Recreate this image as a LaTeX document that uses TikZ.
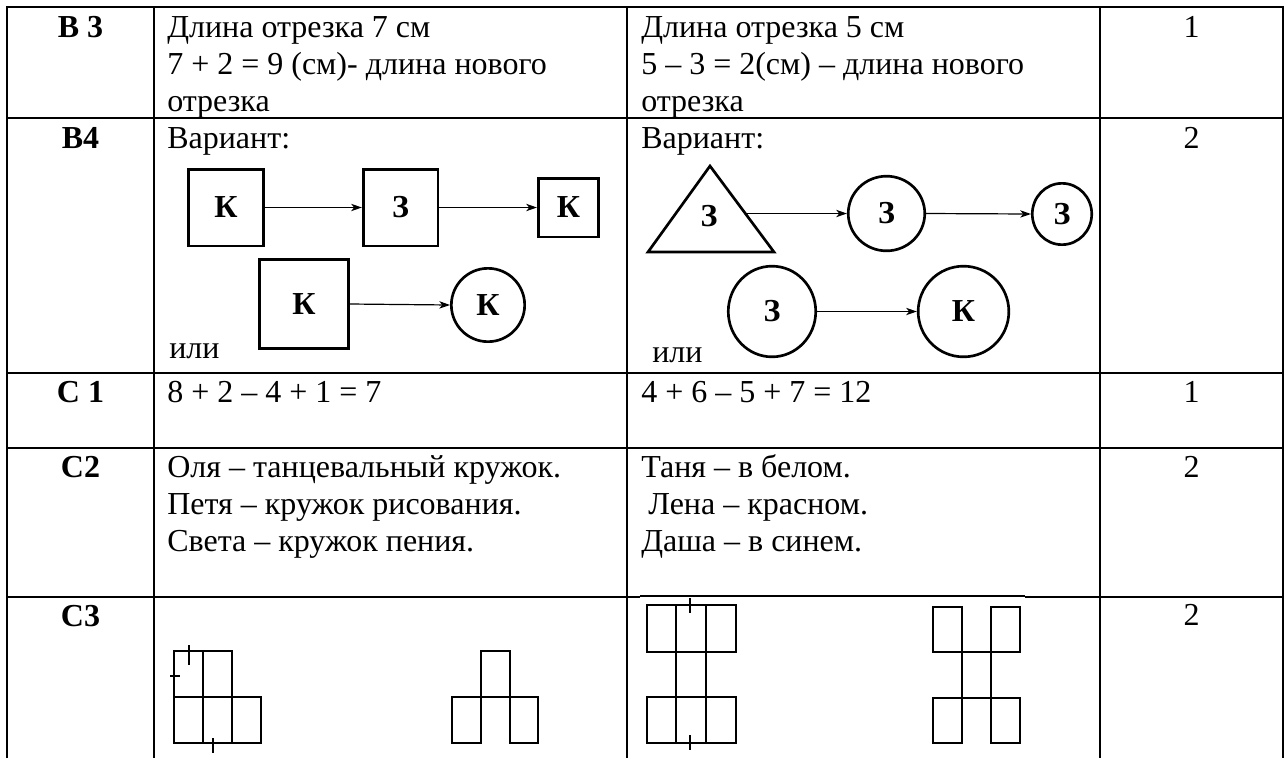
\documentclass[tikz,border=0pt]{standalone}
\usepackage{fontspec}
\setmainfont{Liberation Serif}
\usetikzlibrary{arrows.meta,shapes.geometric}

\begin{document}
\begin{tikzpicture}[x=0.75pt,y=-0.75pt,
    grid/.style={line width=1.7pt},
    txt/.style={anchor=base west,inner sep=0,font=\fontsize{24}{27.75}\selectfont},
    lbl/.style={anchor=base,inner sep=0,font=\fontsize{24}{27.75}\selectfont\bfseries},
    num/.style={anchor=base,inner sep=0,font=\fontsize{24}{27.75}\selectfont},
    fig/.style={draw,line width=2pt,inner sep=0,font=\fontsize{24}{27}\selectfont\bfseries},
    sq/.style={fig,rectangle},
    rnd/.style={fig,ellipse},
    link/.style={->,line width=0.9pt,>={Stealth[length=8pt,width=5.5pt,inset=2.2pt]}},
    cell/.style={line width=1.6pt},
    thincell/.style={line width=1pt},
    tick/.style={line width=0.8pt}]
    \useasboundingbox (0,0) rectangle (1288,758);

    %table
    \draw[grid] (7,758) -- (7,7) -- (1283,7) -- (1283,758);
    \draw[grid] (154,7) -- (154,758);
    \draw[grid] (627,7) -- (627,758);
    \draw[grid] (1100,7) -- (1100,758);
    \draw[grid] (7,118) -- (1283,118);
    \draw[grid] (7,373) -- (1283,373);
    \draw[grid] (7,448) -- (1283,448);
    \draw[grid] (7,597) -- (640,597);
    \draw[grid] (1025,597) -- (1283,597);
    \draw[tick] (640,596) -- (1025,596);

    %row B3
    \node (b3) at (80.5,37) [lbl] {B 3};
    \node (b3a) at (167,37) [txt] {Длина отрезка 7 см};
    \node (b3b) at (167,74) [txt] {7 + 2 = 9 (см)- длина нового};
    \node (b3c) at (167,111) [txt] {отрезка};
    \node (b3d) at (641,37) [txt] {Длина отрезка 5 см};
    \node (b3e) at (641,74) [txt] {5 – 3 = 2(см) – длина нового};
    \node (b3f) at (641,111) [txt] {отрезка};
    \node (b3s) at (1191.5,37) [num] {1};

    %row B4
    \node (b4) at (80.5,148) [lbl] {B4};
    \node (b4a) at (167,148) [txt] {Вариант:};
    \node (b4b) at (641,148) [txt] {Вариант:};
    \node (b4s) at (1191.5,148) [num] {2};
    \node (or1) at (169,358) [txt] {или};
    \node (or2) at (652,362) [txt] {или};

    %shapes left
    \node (k1) at (226,207.5) [sq,minimum width=56.5pt,minimum height=57.5pt] {К};
    \node (z1) at (400.5,207.5) [sq,minimum width=56pt,minimum height=57.5pt] {З};
    \node (k2) at (568.5,207.5) [sq,minimum width=45.4pt,minimum height=44pt] {К};
    \node (k3) at (304,304) [sq,minimum size=67pt] {К};
    \node (k4) at (488,305) [rnd,minimum size=55pt] {К};
    \draw [link] (k1.east) to (z1.west);
    \draw [link] (z1.east) to (k2.west);
    \draw [link] (k3.east) to (k4.west);

    %shapes right
    \coordinate (t1top) at (710,166);
    \coordinate (t1right) at (774,252);
    \coordinate (t1left) at (648,252);
    \coordinate (t1e) at (747,213.5);
    \draw [line width=2pt,line join=miter] (t1top) -- (t1right) -- (t1left) -- cycle;
    \node (z2) at (709,216) [fig,draw=none] {З};
    \node (z3) at (886.5,213.5) [rnd,minimum width=57.4pt,minimum height=56pt] {З};
    \node (z4) at (1062,214) [rnd,minimum width=44.6pt,minimum height=46pt] {З};
    \node (z5) at (772,311.5) [rnd,minimum width=65.6pt,minimum height=68pt] {З};
    \node (k5) at (963.5,311.5) [rnd,minimum size=68pt] {К};
    \draw [link] (t1e) to (z3.west);
    \draw [link] (z3.east) to (z4.west);
    \draw [link] (z5.east) to (k5.west);

    %row C1
    \node (c1) at (80.5,402) [lbl] {C 1};
    \node (c1a) at (167,402) [txt] {8 + 2 – 4 + 1 = 7};
    \node (c1b) at (641,402) [txt] {4 + 6 – 5 + 7 = 12};
    \node (c1s) at (1191.5,402) [num] {1};

    %row C2
    \node (c2) at (80.5,477) [lbl] {C2};
    \node (c2a) at (167,477) [txt] {Оля – танцевальный кружок.};
    \node (c2b) at (167,514) [txt] {Петя – кружок рисования.};
    \node (c2c) at (167,551) [txt] {Света – кружок пения.};
    \node (c2d) at (641,477) [txt] {Таня – в белом.};
    \node (c2e) at (648,514) [txt] {Лена – красном.};
    \node (c2f) at (641,551) [txt] {Даша – в синем.};
    \node (c2s) at (1191.5,477) [num] {2};

    %row C3
    \node (c3) at (80.5,626) [lbl] {C3};
    \node (c3s) at (1191.5,625) [num] {2};

    %figure 1
    \draw [cell] (174,651) rectangle (232,697);
    \draw [cell] (174,697) rectangle (261,743);
    \draw [cell] (203,651) -- (203,743);
    \draw [cell] (232,697) -- (232,743);
    \draw [tick] (189,645) -- (189,665);
    \draw [tick] (170,676) -- (180,676);
    \draw [tick] (213,738) -- (213,753);

    %figure 2
    \draw [cell] (481,697) -- (481,651) -- (510,651) -- (510,697);
    \draw [cell] (452,697) -- (538,697);
    \draw [cell] (452,697) rectangle (481,743);
    \draw [cell] (510,697) rectangle (538,743);

    %figure 3
    \draw [cell] (647,605) rectangle (736,652);
    \draw [cell] (647,697) rectangle (736,743);
    \draw [cell] (676,605) -- (676,652);
    \draw [cell] (706,605) -- (706,652);
    \draw [cell] (676,697) -- (676,743);
    \draw [cell] (706,697) -- (706,743);
    \draw [thincell] (676,652) -- (676,697);
    \draw [thincell] (706,652) -- (706,697);
    \draw [tick] (690,598) -- (690,613);
    \draw [tick] (690,735) -- (690,750);

    %figure 4
    \draw [cell] (933,607) rectangle (962,652);
    \draw [cell] (991,607) rectangle (1020,652);
    \draw [cell] (933,652) -- (1020,652);
    \draw [thincell] (962,652) -- (962,698);
    \draw [thincell] (991,652) -- (991,698);
    \draw [cell] (933,698) -- (1020,698);
    \draw [cell] (933,698) rectangle (962,743);
    \draw [cell] (991,698) rectangle (1020,743);
\end{tikzpicture}
\end{document}
